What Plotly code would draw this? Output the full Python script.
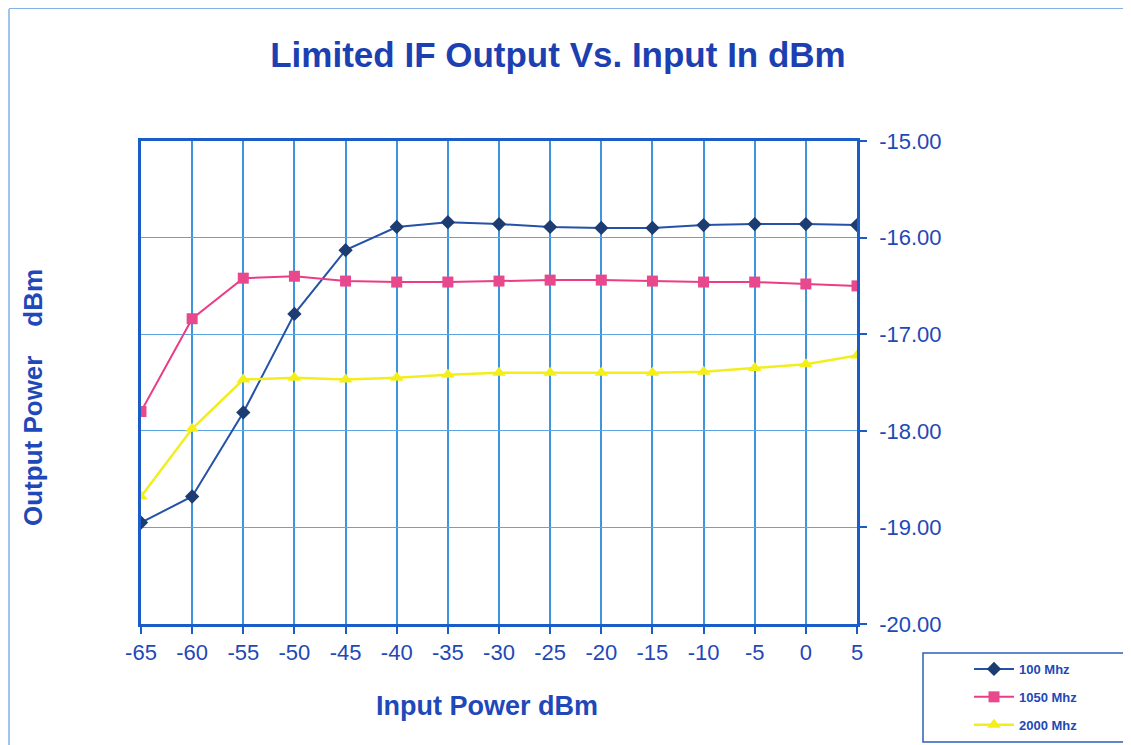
import plotly.graph_objects as go

input_dbm = [-65, -60, -55, -50, -45, -40, -35, -30, -25, -20, -15, -10, -5, 0, 5]
out_100 = [-18.95, -18.68, -17.81, -16.79, -16.13, -15.89, -15.84, -15.86, -15.89, -15.90, -15.90, -15.87, -15.86, -15.86, -15.87]
out_1050 = [-17.80, -16.84, -16.42, -16.40, -16.45, -16.46, -16.46, -16.45, -16.44, -16.44, -16.45, -16.46, -16.46, -16.48, -16.50]
out_2000 = [-18.68, -17.98, -17.47, -17.45, -17.47, -17.45, -17.42, -17.40, -17.40, -17.40, -17.40, -17.39, -17.35, -17.31, -17.22]
series_names = ["100 Mhz", "1050 Mhz", "2000 Mhz"]
y_ticks = [-20, -19, -18, -17, -16, -15]

FONT = "Liberation Sans, Arial, sans-serif"
TEXT_BLUE = "#1f48b8"
AXIS_BLUE = "#1a5cc8"
GRID_BLUE = "#3d95de"

# page offset (default body margin of the html page)
OFF = 8
W, H = 1131 - OFF, 745 - OFF

fig = go.Figure()
fig.add_trace(go.Scatter(
    x=input_dbm, y=out_100, mode="lines+markers", name=series_names[0],
    line=dict(color="#2452a8", width=2),
    marker=dict(symbol="diamond", size=11, color="#1c3c72"),
    legendgroup="a"))
fig.add_trace(go.Scatter(
    x=input_dbm, y=out_1050, mode="lines+markers", name=series_names[1],
    line=dict(color="#ea3d86", width=2),
    marker=dict(symbol="square", size=11, color="#e8488c"),
    legendgroup="b"))
fig.add_trace(go.Scatter(
    x=input_dbm, y=out_2000, mode="lines+markers", name=series_names[2],
    line=dict(color="#f2ee1e", width=2.5),
    marker=dict(symbol="triangle-up", size=12, color="#f4ef18"),
    legendgroup="c"))

fig.update_layout(
    width=W, height=H,
    margin=dict(l=141 - OFF, r=1131 - 857, t=141 - OFF, b=745 - 624, autoexpand=False),
    paper_bgcolor="white", plot_bgcolor="white",
    font=dict(family=FONT, color=TEXT_BLUE),
    title=dict(text="<b>Limited IF Output Vs. Input In dBm</b>",
               font=dict(size=35, color="#1c3fb2", family=FONT),
               x=(558 - OFF) / W, xanchor="center", xref="container",
               y=1 - (55 - OFF) / H, yanchor="middle", yref="container"),
    showlegend=True,
    legend=dict(x=(969 - 141) / 716, xanchor="left", y=(624 - 654) / 483, yanchor="top",
                bgcolor="rgba(0,0,0,0)", borderwidth=0,
                font=dict(size=13, color=TEXT_BLUE, family=FONT, weight="bold"),
                tracegroupgap=8, itemwidth=40),
)
fig.update_xaxes(
    range=[-65, 5], tickmode="array", tickvals=input_dbm,
    ticktext=[str(v) for v in input_dbm],
    showgrid=True, gridcolor=GRID_BLUE, gridwidth=1.5,
    showline=True, linecolor=AXIS_BLUE, linewidth=2.5, mirror=True,
    ticks="outside", ticklen=7, tickcolor=AXIS_BLUE, tickwidth=1.5,
    tickfont=dict(size=22, color=TEXT_BLUE, family=FONT),
    zeroline=False,
)
fig.update_yaxes(
    range=[-20, -15], side="right", tickmode="array", tickvals=y_ticks,
    ticktext=[f"{v:.2f}" for v in y_ticks],
    showgrid=True, gridcolor="#5aa5e2", gridwidth=1.2,
    showline=True, linecolor=AXIS_BLUE, linewidth=2.5, mirror=True,
    ticks="outside", ticklen=7, tickcolor=AXIS_BLUE, tickwidth=1.5,
    tickfont=dict(size=22, color=TEXT_BLUE, family=FONT),
    ticklabelstandoff=8,
    zeroline=False,
)

def px_x(p):
    return (p - 141) / 716

def px_y(p):
    return (624 - p) / 483

fig.add_annotation(text="<b>Output Power&nbsp;&nbsp;&nbsp;&nbsp;dBm</b>", textangle=-90,
                   x=px_x(33), y=px_y(398), xref="paper", yref="paper",
                   xanchor="center", yanchor="middle",
                   showarrow=False, font=dict(size=26, color=TEXT_BLUE, family=FONT))
fig.add_annotation(text="<b>Input Power dBm</b>",
                   x=px_x(487), y=px_y(706), xref="paper", yref="paper",
                   xanchor="center", yanchor="middle",
                   showarrow=False, font=dict(size=27, color=TEXT_BLUE, family=FONT))

# legend box
fig.add_shape(type="rect", xref="paper", yref="paper",
              x0=px_x(923), x1=px_x(1128), y0=px_y(742), y1=px_y(653),
              line=dict(color="#2a5fb8", width=1.5), fillcolor="rgba(0,0,0,0)")
# outer frame (top and left edges)
fig.add_shape(type="line", xref="paper", yref="paper",
              x0=px_x(9), x1=px_x(1131), y0=px_y(8), y1=px_y(8),
              line=dict(color="#7fb2ea", width=2))
fig.add_shape(type="line", xref="paper", yref="paper",
              x0=px_x(9), x1=px_x(9), y0=px_y(9), y1=px_y(745),
              line=dict(color="#7fb2ea", width=1.5))

fig.write_html("out.html")
